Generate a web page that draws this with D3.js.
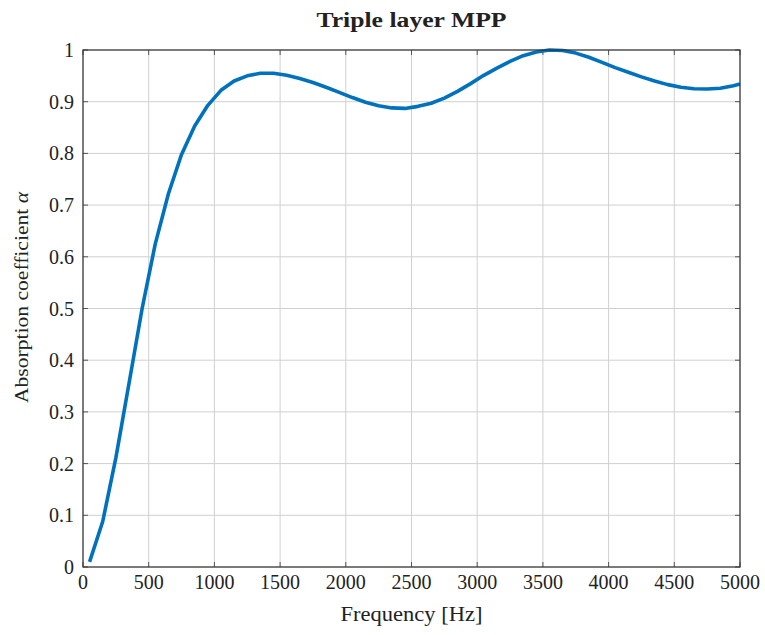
<!DOCTYPE html>
<html><head><meta charset="utf-8">
<script src="https://cdn.jsdelivr.net/npm/d3@7/dist/d3.min.js"></script>
<style>body{margin:0;background:#fff}svg{display:block}text{font-family:"Liberation Serif","DejaVu Serif",serif;fill:#222}</style>
</head><body><svg id="c" width="765" height="635"></svg>
<script>
const freq = [50,150,250,350,450,550,650,750,850,950,1050,1150,1250,1350,1450,1550,1650,1750,1850,1950,2050,2150,2250,2350,2450,2550,2650,2750,2850,2950,3050,3150,3250,3350,3450,3550,3650,3750,3850,3950,4050,4150,4250,4350,4450,4550,4650,4750,4850,4950,5000];
const alpha = [0.010,0.088,0.211,0.355,0.500,0.625,0.722,0.798,0.853,0.893,0.922,0.940,0.950,0.955,0.955,0.951,0.945,0.937,0.928,0.918,0.908,0.899,0.892,0.888,0.887,0.891,0.897,0.907,0.920,0.935,0.951,0.965,0.978,0.989,0.996,1.000,0.999,0.994,0.986,0.976,0.966,0.957,0.948,0.940,0.933,0.928,0.925,0.9245,0.926,0.931,0.934];
const xTicks = [0,500,1000,1500,2000,2500,3000,3500,4000,4500,5000];
const yTicks = [0,0.1,0.2,0.3,0.4,0.5,0.6,0.7,0.8,0.9,1];
const title = "Triple layer MPP";
const xLabel = "Frequency [Hz]";

const L=83,R=740,T=50,B=567;
const svg=d3.select("#c");
const x=d3.scaleLinear().domain([0,5000]).range([L,R]);
const y=d3.scaleLinear().domain([0,1]).range([B,T]);

// grid
svg.append("g").selectAll("line").data(xTicks).join("line")
 .attr("x1",d=>x(d)).attr("x2",d=>x(d)).attr("y1",T).attr("y2",B)
 .attr("stroke","#d0d0d0").attr("stroke-width",1);
svg.append("g").selectAll("line").data(yTicks).join("line")
 .attr("y1",d=>y(d)).attr("y2",d=>y(d)).attr("x1",L).attr("x2",R)
 .attr("stroke","#d0d0d0").attr("stroke-width",1);

// inward ticks on all sides
const tl=5;
const tk=svg.append("g").attr("stroke","#555").attr("stroke-width",1);
xTicks.forEach(d=>{
  tk.append("line").attr("x1",x(d)).attr("x2",x(d)).attr("y1",B).attr("y2",B-tl);
  tk.append("line").attr("x1",x(d)).attr("x2",x(d)).attr("y1",T).attr("y2",T+tl);
});
yTicks.forEach(d=>{
  tk.append("line").attr("x1",L).attr("x2",L+tl).attr("y1",y(d)).attr("y2",y(d));
  tk.append("line").attr("x1",R).attr("x2",R-tl).attr("y1",y(d)).attr("y2",y(d));
});

// curve
const pts=freq.map((f,i)=>[f,alpha[i]]);
svg.append("path").datum(pts)
 .attr("d",d3.line().x(d=>x(d[0])).y(d=>y(d[1])))
 .attr("fill","none").attr("stroke","#0072BD").attr("stroke-width",3.6)
 .attr("stroke-linejoin","round");

// box
svg.append("rect").attr("x",L).attr("y",T).attr("width",R-L).attr("height",B-T)
 .attr("fill","none").attr("stroke","#333").attr("stroke-width",1.2);

// tick labels
svg.append("g").selectAll("text").data(xTicks).join("text")
 .attr("x",d=>x(d)).attr("y",B+22).attr("text-anchor","middle")
 .attr("font-size",20).text(d=>d);
svg.append("g").selectAll("text").data(yTicks).join("text")
 .attr("x",L-9).attr("y",d=>y(d)+7).attr("text-anchor","end")
 .attr("font-size",20).text(d=>d===0||d===1?String(d):d.toFixed(1));

// titles
svg.append("text").attr("x",(L+R)/2).attr("y",27).attr("text-anchor","middle")
 .attr("font-size",20).attr("font-weight","bold")
 .attr("textLength",190).attr("lengthAdjust","spacingAndGlyphs").text(title);
svg.append("text").attr("x",(L+R)/2).attr("y",621).attr("text-anchor","middle")
 .attr("font-size",20).attr("textLength",142).attr("lengthAdjust","spacingAndGlyphs").text(xLabel);
const yl=svg.append("text").attr("transform",`translate(28,297.5) rotate(-90)`)
 .attr("text-anchor","middle").attr("font-size",19)
 .attr("textLength",211).attr("lengthAdjust","spacingAndGlyphs");
yl.append("tspan").text("Absorption coefficient ");
yl.append("tspan").attr("font-style","italic").text("α");
</script></body></html>
